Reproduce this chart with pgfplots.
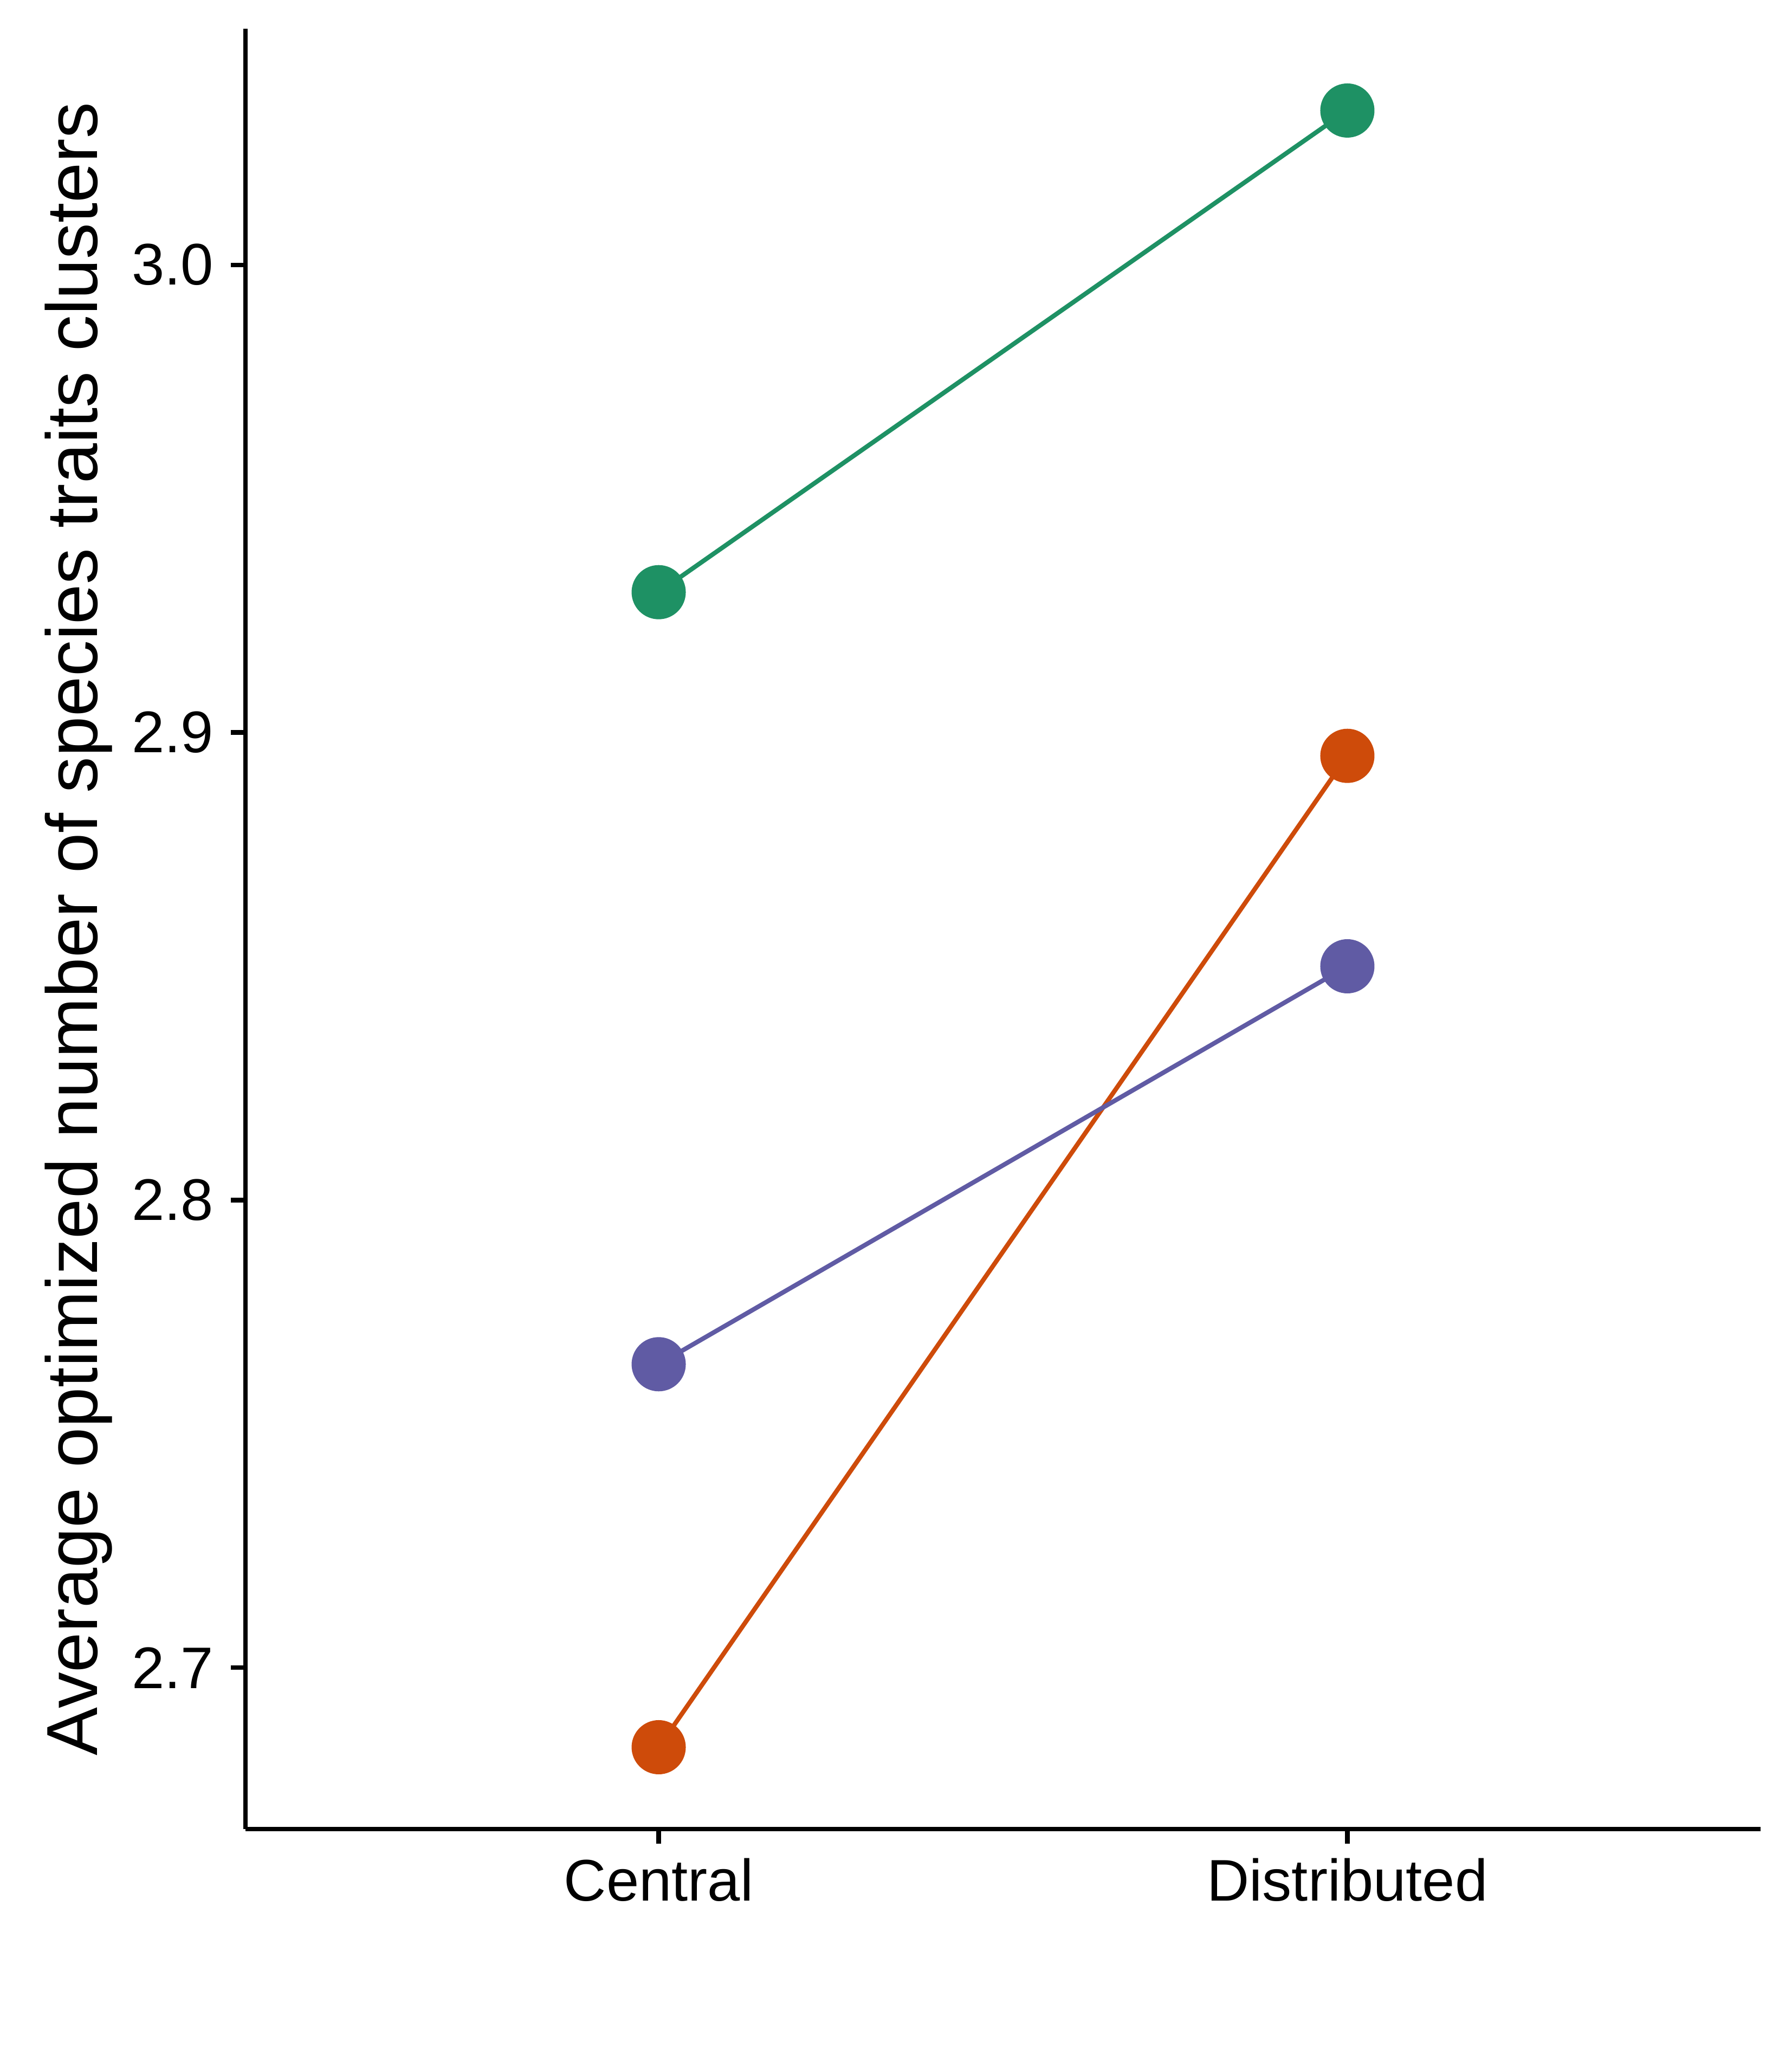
\documentclass[border=0pt]{standalone}
\usepackage{pgfplots}
\pgfplotsset{compat=1.18}
\usepackage{fontspec}
\setmainfont{Liberation Sans}
\definecolor{cgreen}{RGB}{30,145,100}
\definecolor{corange}{RGB}{206,75,10}
\definecolor{cpurple}{RGB}{96,91,164}
\begin{document}
\begin{tikzpicture}
\path[use as bounding box] (-108.72pt,-96.96pt) rectangle (684.96pt,810pt);
\begin{axis}[
  at={(0,0)}, anchor=south west,
  scale only axis, width=671.04pt, height=797.28pt,
  xmin=0.4, xmax=2.6, ymin=2.6655, ymax=3.0505,
  axis lines*=left,
  axis line style={line width=2pt, black},
  tick align=outside,
  major tick length=6.5pt,
  tick style={line width=2pt, black},
  xtick={1,2}, xticklabels={Central,Distributed},
  ytick={2.7,2.8,2.9,3.0},
  /pgf/number format/.cd, fixed, fixed zerofill, precision=1, assume math mode=true,
  /pgfplots/.cd,
  ticklabel style={font=\fontsize{26}{31}\selectfont, inner sep=0pt},
  yticklabel style={anchor=east, xshift=-7.4pt},
  xticklabel style={anchor=north, yshift=-6.2pt},
  ylabel={Average optimized number of species traits clusters},
  ylabel style={font=\fontsize{32}{38}\selectfont, at={(axis description cs:-0.1102,0.5)}, anchor=center, inner sep=0pt},
  clip=false,
]
\addplot[cgreen, line width=2pt, mark=*, mark size=11pt, mark options={solid, fill=cgreen, draw=none}] coordinates {(1,2.930) (2,3.033)};
\addplot[corange, line width=2pt, mark=*, mark size=11pt, mark options={solid, fill=corange, draw=none}] coordinates {(1,2.683) (2,2.895)};
\addplot[cpurple, line width=2pt, mark=*, mark size=11pt, mark options={solid, fill=cpurple, draw=none}] coordinates {(1,2.7649) (2,2.850)};
\end{axis}
\end{tikzpicture}
\end{document}
